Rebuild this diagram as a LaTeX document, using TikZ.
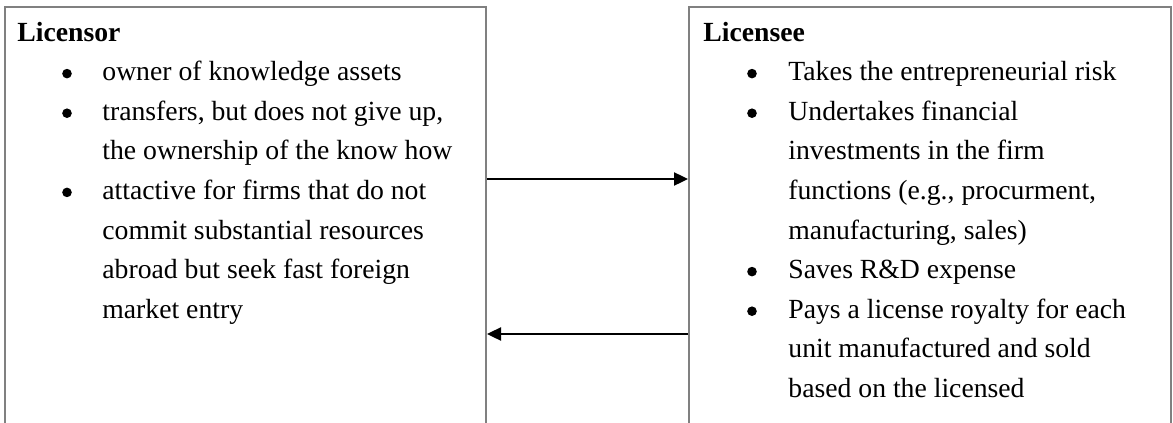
\documentclass[tikz,border=0pt]{standalone}
\usepackage{fontspec}
\setmainfont{Liberation Serif}
\usetikzlibrary{arrows.meta}
\begin{document}
\begin{tikzpicture}[x=0.5pt,y=-0.5pt,
  panel/.style={draw=black!50,line width=1pt,anchor=north west,inner sep=0pt,minimum height=220pt},
  txt/.style={anchor=base west,inner sep=0pt,font=\fontsize{13.85}{19.8}\selectfont},
  head/.style={anchor=base west,inner sep=0pt,font=\fontsize{13.85}{19.8}\selectfont\bfseries},
  dot/.style={circle,fill=black,inner sep=0pt,minimum size=4.8pt},
  flow/.style={line width=1.2pt,-{Triangle[length=7pt,width=6.5pt]}}]
\useasboundingbox (0,0) rectangle (1173,423);
\fill[white] (0,0) rectangle (1173,423);
% panels
\node[panel,minimum width=240.5pt] (L) at (4,6) {};
\node[panel,minimum width=241pt] (R) at (688,6) {};
% left text
\node[head] (lh) at (17,41) {Licensor};
\node[dot] (lb1) at (67,73.6) {};
\node[txt] (l1) at (102,80.6) {owner of knowledge assets};
\node[dot] (lb2) at (67,113.2) {};
\node[txt] (l2) at (102,120.2) {transfers, but does not give up,};
\node[txt] (l3) at (102,159.8) {the ownership of the know how};
\node[dot] (lb3) at (67,192.4) {};
\node[txt] (l4) at (102,199.4) {attactive for firms that do not};
\node[txt] (l5) at (102,239) {commit substantial resources};
\node[txt] (l6) at (102,278.6) {abroad but seek fast foreign};
\node[txt] (l7) at (102,318.2) {market entry};
% right text
\node[head] (rh) at (703,41) {Licensee};
\node[dot] (rb1) at (752,73.6) {};
\node[txt] (r1) at (788,80.6) {Takes the entrepreneurial risk};
\node[dot] (rb2) at (752,113.2) {};
\node[txt] (r2) at (788,120.2) {Undertakes financial};
\node[txt] (r3) at (788,159.8) {investments in the firm};
\node[txt] (r4) at (788,199.4) {functions (e.g., procurment,};
\node[txt] (r5) at (788,239) {manufacturing, sales)};
\node[dot] (rb3) at (752,271.6) {};
\node[txt] (r6) at (788,278.6) {Saves R\&D expense};
\node[dot] (rb4) at (752,311.2) {};
\node[txt] (r7) at (788,318.2) {Pays a license royalty for each};
\node[txt] (r8) at (788,357.8) {unit manufactured and sold};
\node[txt] (r9) at (788,397.4) {based on the licensed};
% arrows
\draw[flow] (L.east |- 0,179) -- (R.west |- 0,179);
\draw[flow] (R.west |- 0,334) -- (L.east |- 0,334);
\end{tikzpicture}
\end{document}
